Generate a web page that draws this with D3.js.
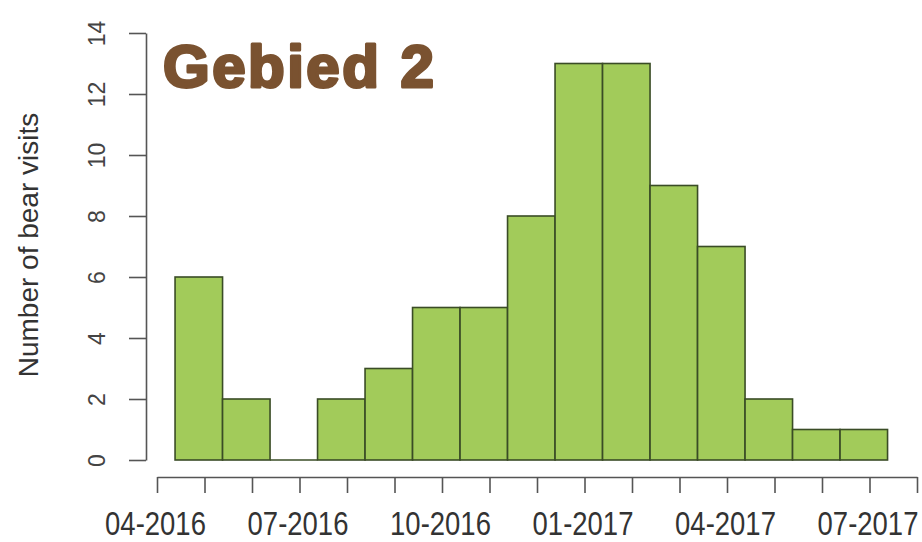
<!DOCTYPE html>
<html>
<head>
<meta charset="utf-8">
<script src="https://cdn.jsdelivr.net/npm/d3@7"></script>
<style>
  html, body { margin: 0; padding: 0; background: #fff; }
  svg { display: block; }
</style>
</head>
<body>
<div id="chart"></div>
<script>
// ---- data ----
const title = "Gebied 2";
const yLabel = "Number of bear visits";
// month tick labels (every month tick, labels only on every third)
const monthTicks = ["04-2016","05-2016","06-2016","07-2016","08-2016","09-2016","10-2016","11-2016","12-2016",
                    "01-2017","02-2017","03-2017","04-2017","05-2017","06-2017","07-2017","08-2017"];
const labelledTicks = ["04-2016","07-2016","10-2016","01-2017","04-2017","07-2017"];
// histogram bins: start (in months after 04-2016) and counts
const binStarts = [0.38,1.38,2.38,3.38,4.38,5.38,6.38,7.38,8.38,9.38,10.38,11.38,12.38,13.38,14.38];
const binWidth = 1.0;
const counts = [6,2,0,2,3,5,5,8,13,13,9,7,2,1,1];
const yTicks = [0,2,4,6,8,10,12,14];

// ---- layout ----
const W = 922, H = 542;
const svg = d3.select("#chart").append("svg").attr("width", W).attr("height", H);

const x = d3.scaleLinear().domain([0, monthTicks.length - 1]).range([157, 917]);
const y = d3.scaleLinear().domain([0, 14]).range([460, 33]);

const axisColor = "#555";
const barStroke = "#3a4c26";
const font = "'Liberation Sans', Arial, sans-serif";

// bars
const bars = svg.append("g");
bars.selectAll("rect").data(counts).join("rect")
  .attr("x", (d, i) => x(binStarts[i]))
  .attr("width", (d, i) => x(binStarts[i] + binWidth) - x(binStarts[i]))
  .attr("y", d => y(d))
  .attr("height", d => y(0) - y(d))
  .attr("fill", "#a2cb5a")
  .attr("stroke", barStroke)
  .attr("stroke-width", 1.6);
// empty bins are drawn as a flat line, like R's hist()
bars.selectAll("line").data(counts.map((c, i) => ({c, i})).filter(d => d.c === 0)).join("line")
  .attr("x1", d => x(binStarts[d.i]))
  .attr("x2", d => x(binStarts[d.i] + binWidth))
  .attr("y1", y(0)).attr("y2", y(0))
  .attr("stroke", barStroke)
  .attr("stroke-width", 1.6);

// y axis
const yAxis = svg.append("g").attr("transform", "translate(146,0)")
  .call(d3.axisLeft(y).tickValues(yTicks).tickSize(17).tickSizeOuter(0));
yAxis.select(".domain").attr("stroke", axisColor).attr("stroke-width", 1.6);
yAxis.selectAll(".tick line").attr("stroke", axisColor).attr("stroke-width", 1.6);
yAxis.selectAll(".tick text")
  .attr("font-family", font)
  .attr("font-size", 23)
  .attr("fill", "#444")
  .attr("text-anchor", "middle")
  .attr("x", 0).attr("y", 0)
  .attr("dy", "0.36em")
  .attr("transform", "translate(-49,0) rotate(-90)");

// x axis
const xAxis = svg.append("g").attr("transform", "translate(0,477)")
  .call(d3.axisBottom(x).tickValues(d3.range(monthTicks.length)).tickSize(16).tickSizeOuter(0)
    .tickFormat(i => labelledTicks.includes(monthTicks[i]) ? monthTicks[i] : ""));
xAxis.select(".domain").attr("stroke", axisColor).attr("stroke-width", 1.6);
xAxis.selectAll(".tick line").attr("stroke", axisColor).attr("stroke-width", 1.6);
xAxis.selectAll(".tick text")
  .attr("font-family", font)
  .attr("font-size", 27.5)
  .attr("fill", "#333")
  .attr("y", 0).attr("dy", 0)
  .attr("transform", "translate(-2,58) scale(1,1.18)");

// y label
svg.append("text")
  .attr("transform", "translate(38,245) rotate(-90)")
  .attr("text-anchor", "middle")
  .attr("font-family", font)
  .attr("font-size", 28)
  .attr("fill", "#333")
  .text(yLabel);

// title
svg.append("text")
  .attr("x", 163).attr("y", 87)
  .attr("font-family", font)
  .attr("font-weight", "bold")
  .attr("font-size", 60)
  .attr("letter-spacing", 2.5)
  .attr("fill", "#7a5230")
  .attr("stroke", "#7a5230")
  .attr("stroke-width", 3)
  .attr("stroke-linejoin", "round")
  .text(title);
</script>
</body>
</html>
